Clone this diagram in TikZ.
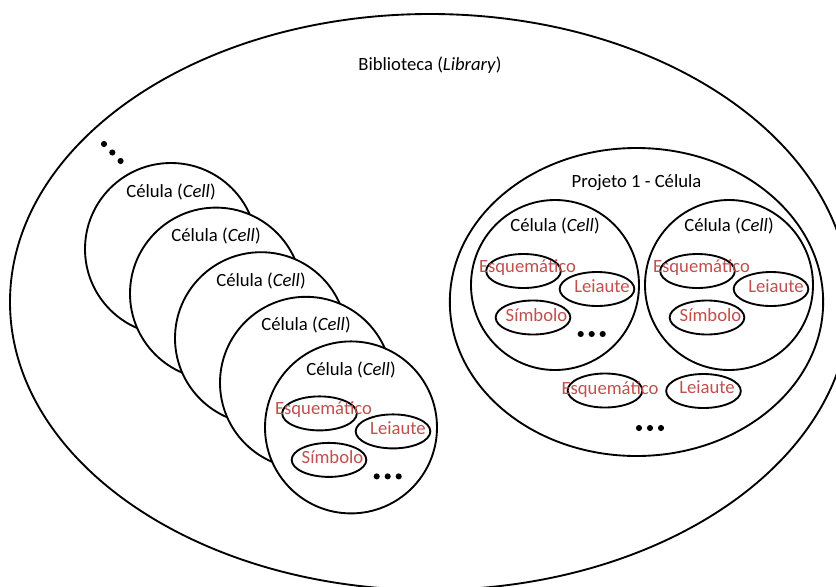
\documentclass[tikz,border=0pt]{standalone}
\usepackage{fontspec}
\setmainfont{Carlito}
\usetikzlibrary{shapes.geometric, calc, positioning}
\definecolor{viewred}{RGB}{192,80,77}
\tikzstyle{cellshape} = [draw, ellipse, fill=white, minimum width=129pt, minimum height=129pt]
\tikzstyle{viewshape} = [draw, ellipse, minimum width=56pt, minimum height=25.5pt]
\tikzstyle{celltitle} = [text height=0.85em, text depth=0.1em]
\tikzstyle{viewname} = [celltitle, text=viewred]

\begin{document}
\begin{tikzpicture}[x=0.75pt, y=-0.75pt, line width=1.4pt, font=\fontsize{14}{17}\selectfont]

  \useasboundingbox (0,0) rectangle (836,586);
  \clip (0,0) rectangle (836,586);

  % library
  \node[draw, ellipse, minimum width=630pt, minimum height=432pt] (library) at (430,302) {};
  \node[celltitle] (librarytitle) at (430,65) {Biblioteca (\textit{Library})};

  % stacked cells
  \foreach \i in {0,...,4} {
    \node[cellshape] (cell\i) at ({171+45*\i},{249+44.6*\i}) {};
    \node[celltitle] (celltitle\i) at ($(cell\i)+(0,-57)$) {Célula (\textit{Cell})};
  }
  \coordinate (moredots) at (104,144);
  \foreach \d in {0,1,2}
    \fill ($(moredots)+(8.3*\d,8.5*\d)$) circle (2.3pt);

  % project
  \node[draw, ellipse, minimum width=280pt, minimum height=231pt] (project) at (636.5,302) {};
  \node[celltitle] (projecttitle) at ($(project)+(0,-120)$) {Projeto 1 - Célula};
  \node[cellshape, minimum width=126pt, minimum height=127.5pt] (projcellA) at (555,285) {};
  \node[cellshape, minimum width=126pt, minimum height=127.5pt] (projcellB) at (729,285) {};
  \node[celltitle] (projcellAtitle) at ($(projcellA)+(0,-59)$) {Célula (\textit{Cell})};
  \node[celltitle] (projcellBtitle) at ($(projcellB)+(0,-59)$) {Célula (\textit{Cell})};

  % views of a cell
  \foreach \c in {cell4, projcellA, projcellB} {
    \node[viewshape] (\c-schem) at ($(\c)+(-31.5,-14)$) {};
    \node[viewname] (\c-schemtext) at ($(\c)+(-27.5,-18)$) {Esquemático};
    \node[viewshape] (\c-layout) at ($(\c)+(42,4)$) {};
    \node[viewname] (\c-layouttext) at ($(\c)+(47,2)$) {Leiaute};
    \node[viewshape] (\c-symbol) at ($(\c)+(-22,32.5)$) {};
    \node[viewname] (\c-symboltext) at ($(\c)+(-18.5,31)$) {Símbolo};
  }
  \foreach \c in {cell4, projcellA}
    \foreach \d in {0,1,2}
      \fill ($(\c)+(25.7+11*\d,49)$) circle (2.3pt);

  % views of the project
  \node[viewshape] (projschem) at (605,390.5) {};
  \node[viewname] (projschemtext) at (610,389) {Esquemático};
  \node[viewshape] (projlayout) at (703.5,391) {};
  \node[viewname] (projlayouttext) at (707,388) {Leiaute};
  \coordinate (projdots) at (639,428);
  \foreach \d in {0,1,2}
    \fill ($(projdots)+(11*\d,0)$) circle (2.3pt);

\end{tikzpicture}
\end{document}
